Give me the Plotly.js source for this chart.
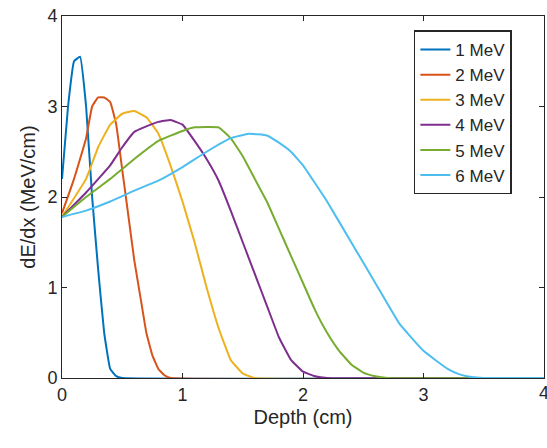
<!DOCTYPE html>
<html><head><script src="https://cdn.plot.ly/plotly-3.0.1.min.js"></script></head>
<body style="margin:0"><div id="c" style="width:547px;height:448px"></div>
<script>
const names=["1 MeV","2 MeV","3 MeV","4 MeV","5 MeV","6 MeV"];
const colors=["#0072BD","#D95319","#EDB120","#7E2F8E","#77AC30","#4DBEEE"];
const x1=[0,0.05,0.1,0.15,0.2,0.25,0.3,0.35,0.4,0.45,0.5,4];
const y1=[2.2,3.0,3.5,3.55,3.0,2.0,1.2,0.5,0.1,0.02,0,0];
const x2=[0,0.1,0.2,0.25,0.3,0.35,0.4,0.45,0.5,0.55,0.6,0.65,0.7,0.75,0.8,0.85,0.9,4];
const y2=[1.82,2.2,2.65,3.0,3.1,3.1,3.05,2.8,2.3,1.8,1.3,0.9,0.5,0.25,0.1,0.03,0,0];
const x3=[0,0.2,0.3,0.4,0.5,0.6,0.7,0.8,0.9,1.0,1.1,1.2,1.3,1.4,1.5,1.6,4];
const y3=[1.78,2.2,2.55,2.8,2.92,2.95,2.88,2.7,2.35,1.95,1.5,1.0,0.55,0.2,0.05,0,0];
const x4=[0,0.2,0.4,0.5,0.6,0.7,0.8,0.9,1.0,1.1,1.2,1.3,1.4,1.5,1.6,1.7,1.8,1.9,2.0,2.1,2.2,4];
const y4=[1.78,2.05,2.35,2.55,2.72,2.78,2.83,2.85,2.8,2.62,2.42,2.18,1.85,1.5,1.15,0.8,0.45,0.2,0.07,0.02,0,0];
const x5=[0,0.2,0.4,0.6,0.8,1.0,1.1,1.3,1.4,1.5,1.6,1.7,1.8,1.9,2.0,2.1,2.2,2.3,2.4,2.5,2.6,2.7,4];
const y5=[1.78,2.0,2.2,2.42,2.62,2.73,2.77,2.77,2.65,2.45,2.2,1.95,1.65,1.35,1.05,0.75,0.5,0.3,0.15,0.06,0.02,0,0];
const x6=[0,0.2,0.4,0.6,0.8,1.0,1.2,1.4,1.55,1.7,1.8,1.9,2.0,2.2,2.4,2.6,2.8,3.0,3.2,3.3,3.4,3.5,4];
const y6=[1.78,1.85,1.95,2.07,2.18,2.33,2.5,2.65,2.7,2.68,2.6,2.5,2.35,1.95,1.5,1.05,0.6,0.3,0.1,0.04,0.01,0,0];
const xs=[x1,x2,x3,x4,x5,x6], ys=[y1,y2,y3,y4,y5,y6];
const data=names.map((n,i)=>({x:xs[i],y:ys[i],name:n,mode:'lines',line:{color:colors[i],width:2,shape:'spline',smoothing:0.3}}));
const ax={showgrid:false,zeroline:false,showline:true,mirror:'ticks',linecolor:'#262626',linewidth:1,ticks:'inside',ticklen:5,tickcolor:'#262626',tickfont:{size:18,color:'#262626'}};
Plotly.newPlot('c',data,{
 width:547,height:448,margin:{l:62,r:3,t:16,b:70},
 font:{family:'Liberation Sans, Arial',color:'#262626'},
 plot_bgcolor:'white',paper_bgcolor:'white',
 xaxis:Object.assign({range:[0,4],tickvals:[0,1,2,3],title:{text:'Depth (cm)',font:{size:20},standoff:6}},ax),
 yaxis:Object.assign({range:[0,4],tickvals:[0,1,2,3,4],title:{text:'dE/dx (MeV/cm)',font:{size:20},standoff:6}},ax),
 annotations:[{x:4,y:0,xref:'x',yref:'y',text:'4',showarrow:false,xanchor:'center',yanchor:'top',yshift:-3,font:{size:18,color:'#262626'}}],
 legend:{x:0.73,y:0.96,xanchor:'left',yanchor:'top',bordercolor:'#262626',borderwidth:1.5,bgcolor:'white',font:{size:17},tracegroupgap:0}
},{staticPlot:true});
</script></body></html>
